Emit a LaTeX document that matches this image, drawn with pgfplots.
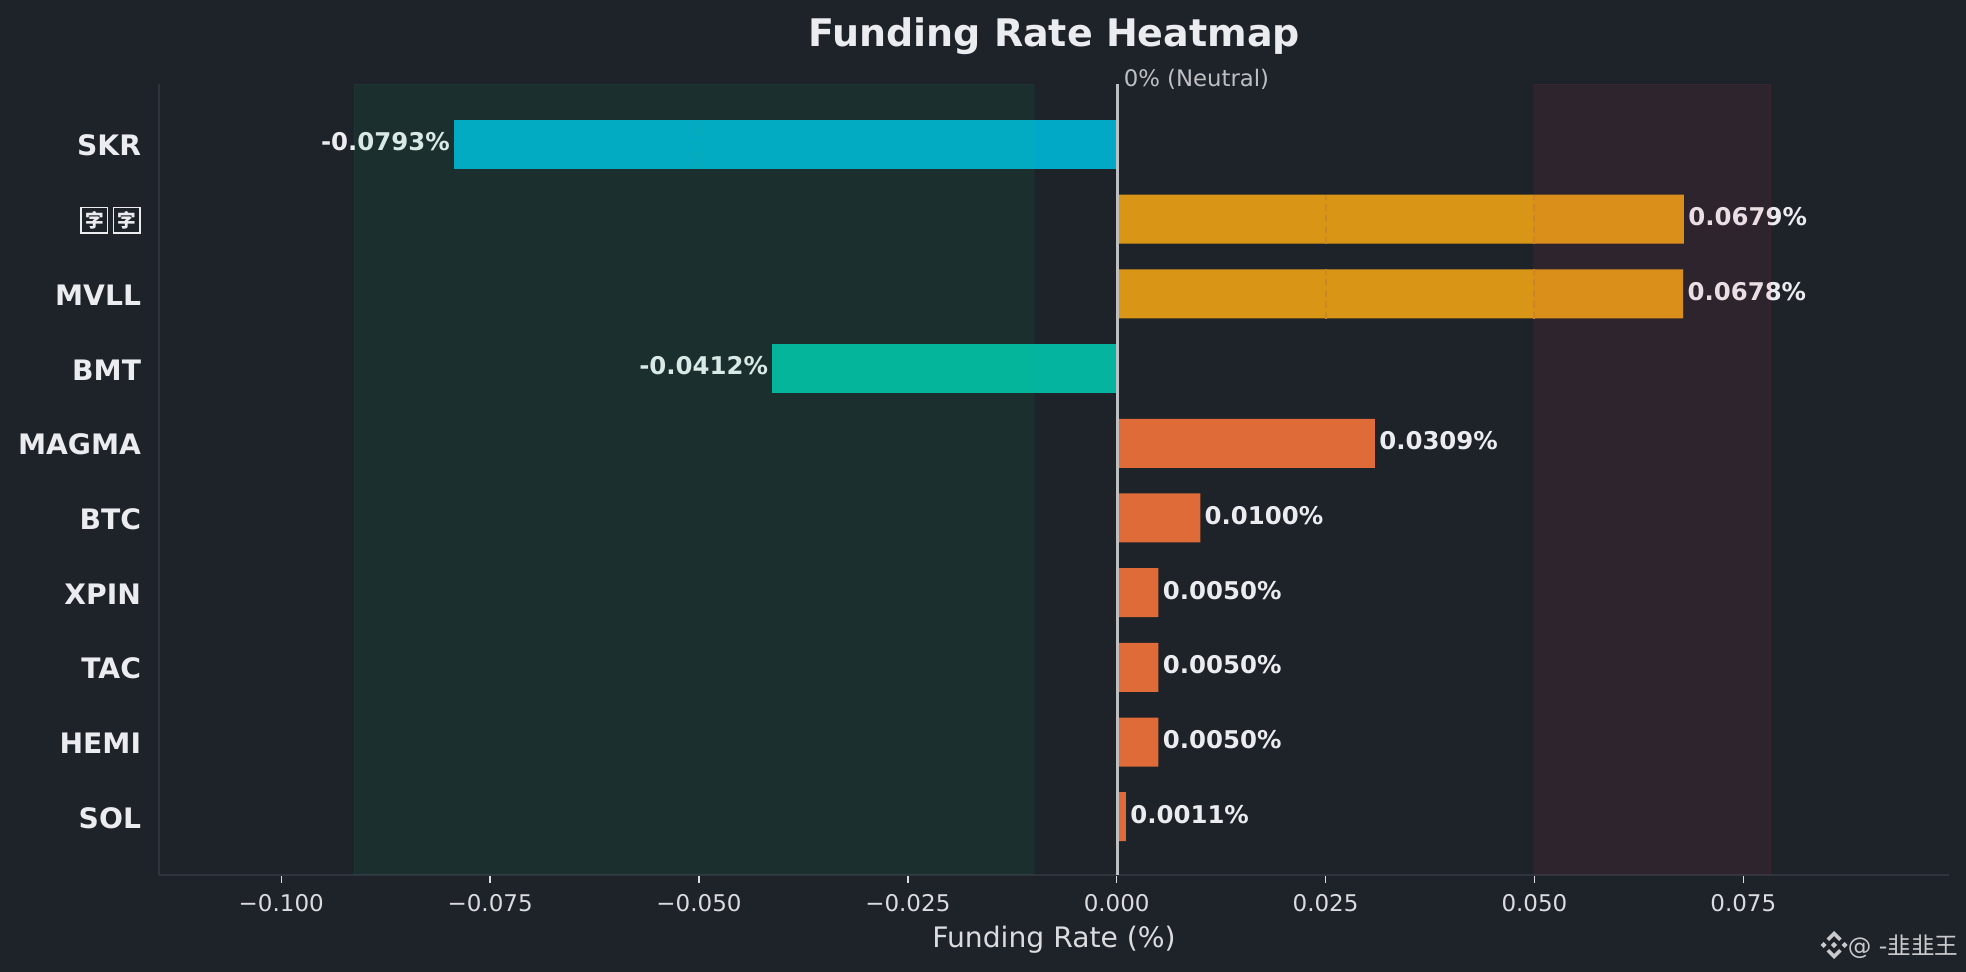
\documentclass[border=0pt]{standalone}
\usepackage{fontspec}
\setmainfont{DejaVu Sans}
\newfontfamily\cjk{Noto Sans CJK SC}
\usepackage{pgfplots}
\pgfplotsset{compat=1.18}
\definecolor{bgc}{HTML}{1E2229}
\definecolor{spine}{HTML}{2E333C}
\definecolor{txt}{HTML}{EAECEF}
\definecolor{ticktxt}{HTML}{DADCDF}
\definecolor{neutral}{HTML}{BDC0C3}
\definecolor{barcyan}{HTML}{00B8D9}
\definecolor{bargreen}{HTML}{02C4AB}
\definecolor{baramber}{HTML}{EEA315}
\definecolor{barorange}{HTML}{F4743B}
\definecolor{spangreen}{HTML}{0ECB81}
\definecolor{spanred}{HTML}{F6465D}
\definecolor{wm}{HTML}{C8CACC}
\definecolor{gridamber}{HTML}{C98A22}
\definecolor{gridcyan}{HTML}{0AA8A8}
% missing-glyph box of the second label
\newcommand{\tofu}{{\setlength{\fboxsep}{1.6pt}\setlength{\fboxrule}{0.8pt}\raisebox{-2.6pt}{\fbox{\cjk\fontsize{9.3}{9.3}\selectfont 字}}}}
\pgfplotsset{
	valuelabel/.style={
		point meta=explicit symbolic,
		nodes near coords,
		every node near coord/.append style={
			font=\bfseries\fontsize{12.2}{13}\selectfont,
			text=txt, text opacity=1, inner sep=0pt, yshift=1.25pt
		}
	},
	barplot/.style={xbar, bar shift=0pt, bar width=24.5pt, draw=none, fill=#1, fill opacity=0.9},
	griddash/.style={line width=1pt, dash pattern=on 3.5pt off 2pt, forget plot}
}
\begin{document}
\begin{tikzpicture}[x=1pt,y=1pt]
	\fill[bgc] (0,0) rectangle (983,486);
	\useasboundingbox (0,0) rectangle (983,486);
	\begin{axis}[
			at={(79.5pt,48.5pt)}, anchor=south west,
			scale only axis, width=895pt, height=395.5pt,
			xmin=-0.11463, xmax=0.09962,
			ymin=-0.78, ymax=9.81,
			clip mode=individual,
			axis x line*=bottom, axis y line*=left,
			axis line style={spine, line width=0.8pt},
			xtick={-0.1,-0.075,-0.05,-0.025,0,0.025,0.05,0.075},
			xticklabels={−0.100,−0.075,−0.050,−0.025,0.000,0.025,0.050,0.075},
			ytick={0,1,2,3,4,5,6,7,8,9},
			yticklabels={SOL,HEMI,TAC,XPIN,BTC,MAGMA,BMT,MVLL,\tofu\hspace{2.2pt}\tofu\hspace{1.5pt},SKR},
			tick align=outside, major tick length=4pt,
			xtick style={ticktxt, line width=0.7pt},
			ytick style={draw=none},
			xticklabel style={font=\fontsize{11.5}{12}\selectfont, text=ticktxt, anchor=base, yshift=-14.4pt},
			yticklabel style={font=\bfseries\fontsize{14.1}{15}\selectfont, text=txt, inner sep=0pt, xshift=-4.8pt, yshift=-0.6pt},
			title={Funding Rate Heatmap},
			title style={font=\bfseries\fontsize{19}{21}\selectfont, text=txt, at={(axis description cs:0.5,1)}, anchor=base, yshift=12.7pt},
			xlabel={Funding Rate (\%)},
			xlabel style={font=\fontsize{14.1}{16}\selectfont, text=ticktxt, at={(axis description cs:0.5,0)}, anchor=base, yshift=-36.5pt},
		]
		% bars, one plot per colour
		\addplot [barplot=barcyan, valuelabel, every node near coord/.append style={anchor=east, xshift=-2pt}]
			coordinates {(-0.0793,9) [-0.0793\%]};
		\addplot [barplot=bargreen, valuelabel, every node near coord/.append style={anchor=east, xshift=-2pt}]
			coordinates {(-0.0412,6) [-0.0412\%]};
		\addplot [barplot=baramber, valuelabel, every node near coord/.append style={anchor=west, xshift=2pt}]
			coordinates {(0.0679,8) [0.0679\%] (0.0678,7) [0.0678\%]};
		\addplot [barplot=barorange, valuelabel, every node near coord/.append style={anchor=west, xshift=2pt}]
			coordinates {
				(0.0309,5) [0.0309\%]
				(0.0100,4) [0.0100\%]
				(0.0050,3) [0.0050\%]
				(0.0050,2) [0.0050\%]
				(0.0050,1) [0.0050\%]
				(0.0011,0) [0.0011\%]
			};
		% dashed grid only shows on the bars
		\addplot [griddash, color=gridamber] coordinates {(0.025,7.67) (0.025,8.33)};
		\addplot [griddash, color=gridamber] coordinates {(0.05,7.67) (0.05,8.33)};
		\addplot [griddash, color=gridamber] coordinates {(0.025,6.67) (0.025,7.33)};
		\addplot [griddash, color=gridamber] coordinates {(0.05,6.67) (0.05,7.33)};
		\addplot [griddash, color=gridcyan, opacity=0.5] coordinates {(-0.05,8.67) (-0.05,9.33)};
		% shaded zones sit over the bars
		\addplot [draw=spangreen, draw opacity=0.05, fill=spangreen, fill opacity=0.08]
			coordinates {(-0.0913,-0.78) (-0.0099,-0.78) (-0.0099,9.81) (-0.0913,9.81)} --cycle;
		\addplot [draw=spanred, draw opacity=0.05, fill=spanred, fill opacity=0.08]
			coordinates {(0.0499,-0.78) (0.0783,-0.78) (0.0783,9.81) (0.0499,9.81)} --cycle;
		% neutral line
		\addplot [neutral, line width=1.6pt] coordinates {(0.0001,-0.78) (0.0001,9.81)};
		\node [anchor=base west, inner sep=0pt, text=neutral, font=\fontsize{11.4}{12}\selectfont]
			at (axis cs:0.0008,9.77) {0\% (Neutral)};
	\end{axis}
	% watermark
	\begin{scope}[x=0.5pt,y=-0.5pt,shift={(917pt,13.5pt)}]
		\fill[wm] (0,-3.2) -- (3.2,0) -- (0,3.2) -- (-3.2,0) -- cycle;
		\fill[wm] (-10.5,-3) -- (-7.5,0) -- (-10.5,3) -- (-13.5,0) -- cycle;
		\fill[wm] (10.5,-3) -- (13.5,0) -- (10.5,3) -- (7.5,0) -- cycle;
		\fill[wm] (0,-14) -- (7.5,-6.5) -- (5,-4) -- (0,-9) -- (-5,-4) -- (-7.5,-6.5) -- cycle;
		\fill[wm] (0,14) -- (7.5,6.5) -- (5,4) -- (0,9) -- (-5,4) -- (-7.5,6.5) -- cycle;
	\end{scope}
	\node [anchor=base east, inner sep=0pt, text=wm, font=\fontsize{11.8}{12}\selectfont]
		at (979.3pt,8.5pt) {@ -{\cjk 韭韭王}};
\end{tikzpicture}
\end{document}
